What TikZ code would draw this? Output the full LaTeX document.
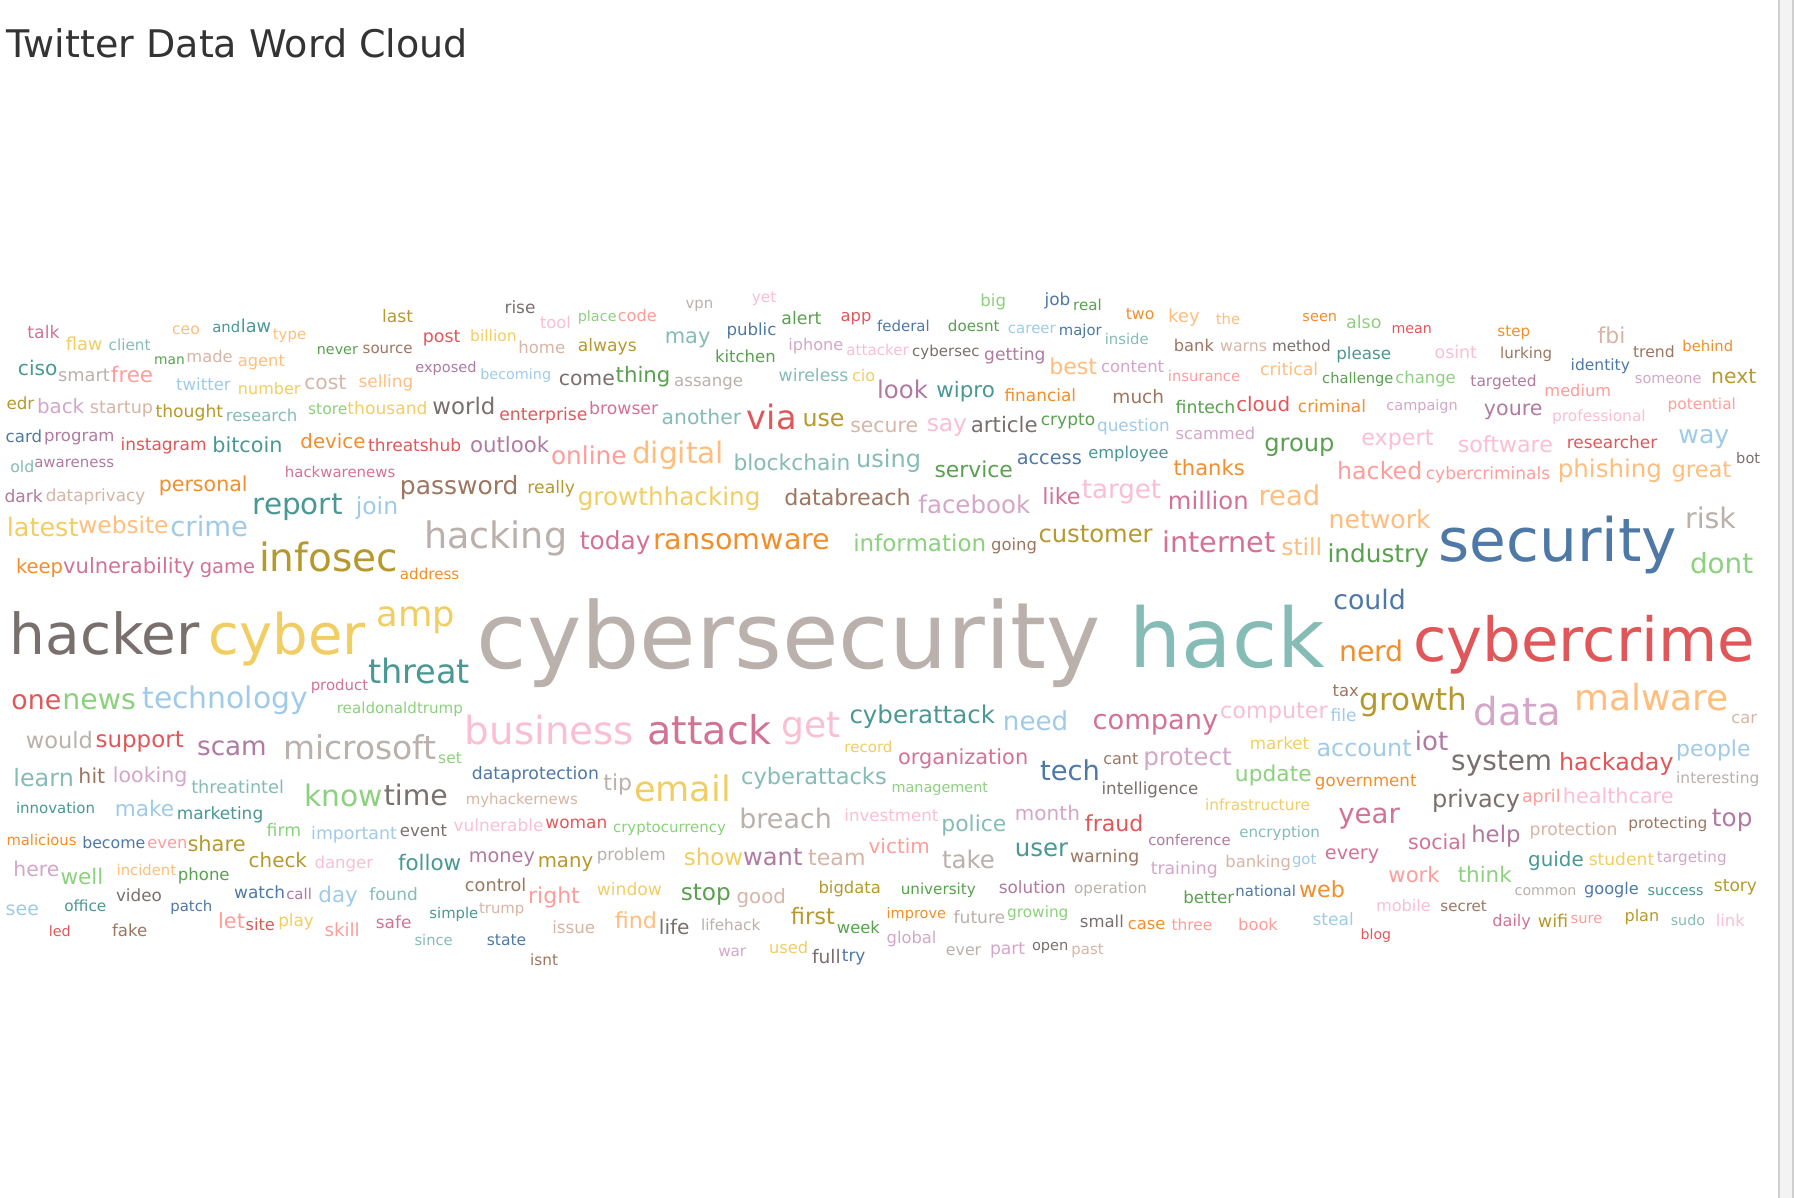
\documentclass[tikz,border=0pt]{standalone}
\usepackage{fontspec}
\setmainfont{DejaVu Sans}
\usepackage{graphicx}
\definecolor{cb}{HTML}{4E79A7}
\definecolor{clb}{HTML}{A0CBE8}
\definecolor{co}{HTML}{F28E2B}
\definecolor{clo}{HTML}{FFBE7D}
\definecolor{cg}{HTML}{59A14F}
\definecolor{clg}{HTML}{8CD17D}
\definecolor{cy}{HTML}{B6992D}
\definecolor{cly}{HTML}{F1CE63}
\definecolor{ct}{HTML}{499894}
\definecolor{clt}{HTML}{86BCB6}
\definecolor{cr}{HTML}{E15759}
\definecolor{clr}{HTML}{FF9D9A}
\definecolor{cgr}{HTML}{79706E}
\definecolor{clgr}{HTML}{BAB0AC}
\definecolor{cp}{HTML}{D37295}
\definecolor{clp}{HTML}{FABFD2}
\definecolor{cpu}{HTML}{B07AA1}
\definecolor{clpu}{HTML}{D4A6C8}
\definecolor{cbr}{HTML}{9D7660}
\definecolor{clbr}{HTML}{D7B5A6}
\definecolor{titlecol}{HTML}{333333}
\definecolor{scrollfill}{HTML}{F3F3F3}
\definecolor{scrollline}{HTML}{CFCFCF}
\tikzset{word/.style={anchor=base west, inner sep=0pt, outer sep=0pt}}
\newcommand\wrd[5]{\pgfmathsetmacro\wrdw{#2-#1}\node[word,text=c#4] (#5) at (#1,#3) {\resizebox{\wrdw pt}{!}{#5}};}
\begin{document}
\begin{tikzpicture}[x=1pt,y=-1pt]
\useasboundingbox (0,0) rectangle (1568,1047);
\fill[white] (0,0) rectangle (1568,1047);
\fill[scrollfill] (1555.9,0) rectangle (1566.3,1047);
\fill[scrollline] (1554.1,0) rectangle (1555.9,1047);
\fill[scrollline] (1566.3,0) rectangle (1568,1047);
\node[word,text=titlecol] (title) at (6,50) {\resizebox{403pt}{!}{Twitter Data Word Cloud}};
% row 1
\wrd{441}{468}{274}{gr}{rise}
\wrd{334}{361}{282}{y}{last}
\wrd{472}{499}{287}{lp}{tool}
\wrd{505}{539}{281}{lg}{place}
\wrd{540}{574}{281}{lr}{code}
\wrd{150.5}{174.6}{292}{lo}{ceo}
\wrd{185.6}{210}{291}{t}{and}
\wrd{210.5}{237}{291}{t}{law}
\wrd{24}{52}{296}{p}{talk}
\wrd{238.5}{267.6}{297}{lo}{type}
\wrd{369.6}{402.4}{299}{r}{post}
\wrd{411}{451.6}{298.6}{ly}{billion}
\wrd{57.5}{89.6}{306}{ly}{flaw}
\wrd{95}{131.5}{306.5}{lt}{client}
\wrd{277}{312.8}{310}{g}{never}
\wrd{317}{360.6}{308.8}{br}{source}
\wrd{453}{494}{308.8}{lbr}{home}
\wrd{505}{556.5}{307.4}{y}{always}
\wrd{134.8}{161.6}{319}{g}{man}
\wrd{163}{203.4}{316.7}{lbr}{made}
\wrd{208}{249}{320}{lo}{agent}
\wrd{363}{416.5}{325.5}{pu}{exposed}
\wrd{15.7}{50.2}{328}{t}{ciso}
\wrd{50.8}{96}{333.6}{lgr}{smart}
\wrd{97}{133.8}{334}{lr}{free}
\wrd{419.8}{481.7}{332}{lb}{becoming}
\wrd{488.4}{537.4}{336.5}{gr}{come}
\wrd{153.9}{201.7}{341.7}{lb}{twitter}
\wrd{208}{262.6}{344.4}{ly}{number}
\wrd{266}{302.7}{340}{lbr}{cost}
\wrd{313.4}{361.3}{339}{lo}{selling}
\wrd{5.7}{30}{358.3}{y}{edr}
\wrd{32.4}{73.6}{361}{lpu}{back}
\wrd{78.6}{133.8}{361}{lbr}{startup}
\wrd{136}{195}{365}{y}{thought}
\wrd{197.4}{260}{368.5}{lt}{research}
\wrd{269.3}{303.7}{362.7}{lg}{store}
\wrd{303.7}{373.6}{362}{ly}{thousand}
\wrd{378}{433}{362}{gr}{world}
\wrd{436.5}{513.5}{367.5}{r}{enterprise}
\wrd{515}{575.2}{362.7}{p}{browser}
\wrd{5}{36.8}{386.6}{b}{card}
\wrd{38.5}{100}{386}{pu}{program}
\wrd{105.4}{180.6}{394}{r}{instagram}
\wrd{185.6}{246.9}{395.3}{t}{bitcoin}
\wrd{262.6}{319.4}{392.4}{o}{device}
\wrd{321.8}{403}{394.7}{r}{threatshub}
\wrd{410.8}{480}{395.3}{pu}{outlook}
\wrd{481.7}{547.5}{406.4}{lr}{online}
\wrd{9}{30}{413.1}{lt}{old}
\wrd{30}{99.7}{408.7}{pu}{awareness}
\wrd{249}{345.5}{417.5}{p}{hackwarenews}
\wrd{138.8}{216.4}{430}{o}{personal}
\wrd{349.6}{453.2}{432}{br}{password}
\wrd{461}{502.7}{431}{y}{really}
\wrd{505}{664.6}{442}{ly}{growthhacking}
\wrd{4}{37.5}{439}{pu}{dark}
\wrd{40}{127}{438.5}{lbr}{dataprivacy}
\wrd{220.8}{299.4}{450}{t}{report}
\wrd{311}{348}{450}{lb}{join}
% row 1 middle
\wrd{599.3}{623.4}{269.5}{lgr}{vpn}
\wrd{657.2}{678.6}{264}{lp}{yet}
\wrd{856.9}{879.3}{267.5}{lg}{big}
\wrd{913}{935.5}{267}{b}{job}
\wrd{938}{963}{271.8}{g}{real}
\wrd{984}{1009}{279}{o}{two}
\wrd{1021}{1048.5}{282}{lo}{key}
\wrd{683}{718}{283.5}{g}{alert}
\wrd{734.8}{761.6}{281}{r}{app}
\wrd{766.6}{812.7}{289.9}{b}{federal}
\wrd{828.5}{873.6}{289.9}{g}{doesnt}
\wrd{881}{922.8}{291.3}{lb}{career}
\wrd{925.5}{962.9}{293.5}{b}{major}
\wrd{965.6}{1004}{301.5}{lt}{inside}
\wrd{635}{678.6}{292.8}{b}{public}
\wrd{581}{621}{300}{lt}{may}
\wrd{689}{737}{306.5}{lpu}{iphone}
\wrd{739.8}{794.3}{310.3}{lp}{attacker}
\wrd{797.3}{856.2}{312}{gr}{cybersec}
\wrd{860.2}{913.8}{315}{pu}{getting}
\wrd{625}{678}{316.7}{g}{kitchen}
\wrd{917.1}{958.9}{327.2}{lo}{best}
\wrd{962.3}{1017.5}{325.4}{lpu}{content}
\wrd{1020.8}{1083.9}{333.6}{lr}{insurance}
\wrd{1026}{1061}{307}{br}{bank}
\wrd{538.1}{586}{334}{g}{thing}
\wrd{589.3}{649.5}{337.5}{lgr}{assange}
\wrd{680.6}{741.5}{333.6}{lt}{wireless}
\wrd{744.8}{765}{333.6}{ly}{cio}
\wrd{766.6}{811}{348.1}{pu}{look}
\wrd{818.4}{869.6}{347.5}{t}{wipro}
\wrd{878}{940.5}{351}{o}{financial}
\wrd{972.3}{1017.5}{352.5}{br}{much}
\wrd{1027.5}{1079.8}{361}{g}{fintech}
\wrd{578.3}{647.8}{370.9}{lt}{another}
\wrd{652.8}{696.3}{375.8}{r}{via}
\wrd{701.4}{738.1}{372.9}{y}{use}
\wrd{743.2}{802.4}{378.1}{lbr}{secure}
\wrd{810}{845.2}{377}{lp}{say}
\wrd{848.5}{907}{378.1}{gr}{article}
\wrd{909.7}{957.2}{372}{g}{crypto}
\wrd{958.9}{1022.5}{377}{lb}{question}
\wrd{1027.5}{1097}{384.5}{lpu}{scammed}
\wrd{552.5}{632.8}{404.9}{lo}{digital}
\wrd{641.1}{743.2}{410.8}{lt}{blockchain}
\wrd{748.2}{805}{408.7}{lt}{using}
\wrd{816.8}{885.3}{417.5}{g}{service}
\wrd{888.7}{945.5}{406.4}{b}{access}
\wrd{951.2}{1021.5}{401}{t}{employee}
\wrd{1025.8}{1087.9}{415.2}{o}{thanks}
\wrd{685.6}{796}{441.9}{br}{databreach}
\wrd{802.7}{900.4}{448.6}{lpu}{facebook}
\wrd{911.1}{944.5}{440.8}{p}{like}
\wrd{945.5}{1014.8}{435.5}{lp}{target}
\wrd{1020.8}{1091.3}{445.7}{p}{million}
% row 1 right
\wrd{1062.7}{1083.9}{284}{lo}{the}
\wrd{1138.4}{1168.7}{281.1}{o}{seen}
\wrd{1176.5}{1207.4}{287}{lg}{also}
\wrd{1216.2}{1251.5}{291.3}{r}{mean}
\wrd{1308.8}{1337.4}{294}{o}{step}
\wrd{1396.3}{1420.6}{300.1}{lbr}{fbi}
\wrd{1470.4}{1514.8}{306.8}{o}{behind}
\wrd{1427.3}{1463.7}{312.6}{br}{trend}
\wrd{1066.4}{1107.4}{306.8}{lbr}{warns}
\wrd{1111.8}{1163}{306.8}{gr}{method}
\wrd{1168}{1215.9}{313.8}{t}{please}
\wrd{1253.9}{1290.9}{313.2}{lp}{osint}
\wrd{1311.1}{1356.6}{313.5}{br}{lurking}
\wrd{1372.8}{1424.6}{323.4}{b}{identity}
\wrd{1101.4}{1152.2}{328.3}{lo}{critical}
\wrd{1155.6}{1217.9}{335.6}{g}{challenge}
\wrd{1219.6}{1272.4}{335.6}{lg}{change}
\wrd{1285.2}{1343.1}{337.9}{pu}{targeted}
\wrd{1429}{1487.2}{335}{lpu}{someone}
\wrd{1495.6}{1535}{335.6}{y}{next}
\wrd{1349.9}{1408.1}{346.7}{lr}{medium}
\wrd{1080.5}{1127.6}{359.8}{r}{cloud}
\wrd{1134.4}{1194}{360.4}{o}{criminal}
\wrd{1211.8}{1274.1}{359}{lpu}{campaign}
\wrd{1297}{1348.2}{363.3}{pu}{youre}
\wrd{1356.6}{1438.4}{368.5}{lp}{professional}
\wrd{1457.6}{1517.2}{357.8}{lr}{potential}
\wrd{1189.9}{1252.9}{389}{lp}{expert}
\wrd{1274.1}{1357.3}{395.6}{lp}{software}
\wrd{1369.4}{1448.5}{391.8}{r}{researcher}
\wrd{1467}{1511.5}{388}{lb}{way}
\wrd{1517.5}{1538.4}{404.9}{gr}{bot}
\wrd{1105.1}{1166.4}{395}{g}{group}
\wrd{1168.7}{1243.1}{419.5}{lr}{hacked}
\wrd{1246.2}{1354.9}{419.5}{lr}{cybercriminals}
\wrd{1361.6}{1452.6}{417.5}{lo}{phishing}
\wrd{1461}{1513.2}{417.5}{lo}{great}
\wrd{1100}{1153.9}{441.4}{lo}{read}
\wrd{1161.3}{1250.5}{462}{lo}{network}
\wrd{1472.8}{1517.2}{462}{lgr}{risk}
% row 2
\wrd{6}{68.6}{469}{ly}{latest}
\wrd{68.6}{147.2}{466.1}{lo}{website}
\wrd{148.9}{216.8}{469}{lb}{crime}
\wrd{370.6}{495.7}{479}{lgr}{hacking}
\wrd{506.8}{568.6}{480.5}{p}{today}
\wrd{570.9}{725.8}{480.7}{o}{ransomware}
\wrd{745.8}{861.9}{482.1}{lg}{information}
\wrd{866.3}{906.4}{481}{br}{going}
\wrd{907.7}{1007.4}{474}{y}{customer}
\wrd{1015.8}{1114.8}{482.7}{p}{internet}
\wrd{1119.9}{1155.6}{485.1}{lo}{still}
\wrd{1160.3}{1248.9}{492}{g}{industry}
\wrd{1257.3}{1466}{491}{b}{security}
\wrd{1477.1}{1532.4}{501.1}{lg}{dont}
\wrd{14}{55.2}{501}{o}{keep}
\wrd{55.2}{170}{501}{p}{vulnerability}
\wrd{174.6}{223.1}{501}{p}{game}
\wrd{226.5}{347.9}{499.6}{y}{infosec}
\wrd{349.6}{401.4}{506.3}{o}{address}
\wrd{8.4}{174.6}{572.4}{gr}{hacker}
\wrd{182.3}{319.4}{572.4}{ly}{cyber}
\wrd{329.5}{398}{548}{ly}{amp}
\wrd{416.5}{962.2}{584.7}{lgr}{cybersecurity}
\wrd{987.4}{1157.9}{583.5}{lt}{hack}
\wrd{1165.3}{1228.7}{532.3}{b}{could}
\wrd{1170.4}{1227}{578.3}{o}{nerd}
\wrd{1235.4}{1533.4}{578.3}{r}{cybercrime}
\wrd{321.8}{410.8}{597.2}{t}{threat}
\wrd{271.6}{321.8}{603.9}{p}{product}
\wrd{1164.7}{1187.6}{608.9}{br}{tax}
\wrd{1188.2}{1282.5}{620.6}{y}{growth}
\wrd{1288.2}{1364.3}{634.5}{lpu}{data}
\wrd{1375.8}{1510.8}{621.4}{lo}{malware}
\wrd{1513.2}{1535.7}{632.2}{lbr}{car}
\wrd{1066.5}{1160.5}{628}{lp}{computer}
\wrd{1163}{1185.8}{631}{lb}{file}
\wrd{10}{53.5}{620.5}{r}{one}
\wrd{54.5}{118.7}{620.5}{lg}{news}
\wrd{124.4}{269.3}{619.6}{lb}{technology}
\wrd{294.4}{404.7}{624}{lg}{realdonaldtrump}
\wrd{406.4}{554.2}{651}{lp}{business}
\wrd{565.9}{674.6}{651.1}{p}{attack}
\wrd{683}{734.8}{645}{lp}{get}
\wrd{742.5}{869.6}{632.2}{t}{cyberattack}
\wrd{876.6}{933.7}{638.5}{lb}{need}
\wrd{955}{1064.8}{638}{p}{company}
\wrd{22.7}{81.3}{654}{lgr}{would}
\wrd{83.6}{160.6}{653}{r}{support}
\wrd{172.3}{233.1}{660}{pu}{scam}
\wrd{247.5}{381.3}{664}{lgr}{microsoft}
\wrd{383}{403.7}{667.2}{lg}{set}
\wrd{738.1}{780}{657.6}{ly}{record}
\wrd{1092.5}{1144.3}{655.5}{ly}{market}
\wrd{1150.7}{1233.8}{661.4}{lb}{account}
\wrd{1236.7}{1265.8}{656}{pu}{iot}
\wrd{1465}{1530}{661}{lb}{people}
\wrd{785}{898.7}{668}{p}{organization}
\wrd{909}{961.4}{681.8}{b}{tech}
\wrd{964.3}{994.9}{668.6}{br}{cant}
\wrd{999.3}{1076.5}{669}{lpu}{protect}
\wrd{1079.4}{1146.4}{683}{lg}{update}
\wrd{1149.3}{1238.1}{687.6}{o}{government}
\wrd{1268.4}{1356.6}{673}{gr}{system}
\wrd{1362.7}{1462.7}{673}{r}{hackaday}
\wrd{1465}{1537.7}{685}{lgr}{interesting}
\wrd{962.8}{1047.3}{694.3}{gr}{intelligence}
\wrd{1053.2}{1144.9}{708.6}{ly}{infrastructure}
\wrd{1251.6}{1328.6}{706}{gr}{privacy}
\wrd{1330.3}{1364}{701}{lr}{april}
\wrd{1366}{1462.7}{702.2}{lp}{healthcare}
\wrd{887.1}{943.9}{716.7}{lpu}{month}
\wrd{948.3}{999.3}{726.9}{r}{fraud}
\wrd{1169.7}{1223.6}{720}{p}{year}
\wrd{1496.3}{1531.7}{722.5}{pu}{top}
\wrd{1003.6}{1075.6}{738.6}{pu}{conference}
\wrd{1083.2}{1153.6}{732}{lt}{encryption}
\wrd{1230.8}{1281.8}{742.3}{p}{social}
\wrd{1285.9}{1329}{736}{pu}{help}
\wrd{1337}{1413.8}{730.4}{lbr}{protection}
\wrd{1423.3}{1492.3}{724}{br}{protecting}
\wrd{887.1}{933.7}{748.8}{t}{user}
\wrd{935.2}{995.8}{754}{br}{warning}
\wrd{1158}{1205.5}{751.5}{p}{every}
% row 3 left
\wrd{11.7}{64.6}{687.6}{lt}{learn}
\wrd{68.6}{92}{684.7}{br}{hit}
\wrd{98.7}{163.9}{683.8}{lpu}{looking}
\wrd{167.2}{248.2}{693.4}{lt}{threatintel}
\wrd{265.9}{334.5}{705.1}{lg}{know}
\wrd{335.5}{391.4}{704.2}{gr}{time}
\wrd{412.4}{523.5}{681.5}{b}{dataprotection}
\wrd{407.1}{505.1}{703}{lbr}{myhackernews}
\wrd{527.4}{552.5}{691}{lgr}{tip}
\wrd{554.2}{638.8}{700.1}{ly}{email}
\wrd{647.8}{775}{686}{lt}{cyberattacks}
\wrd{779.3}{863.6}{692.5}{lg}{management}
\wrd{14}{83}{710.9}{t}{innovation}
\wrd{100.4}{152.2}{713.2}{lb}{make}
\wrd{154.5}{230.1}{716}{t}{marketing}
\wrd{233.1}{263.3}{731.3}{lg}{firm}
\wrd{272}{346.9}{733.5}{lb}{important}
\wrd{349.6}{390.7}{731.3}{gr}{event}
\wrd{396.4}{475}{727}{lp}{vulnerable}
\wrd{476.7}{530.8}{724}{r}{woman}
\wrd{535.8}{634.5}{727.5}{lg}{cryptocurrency}
\wrd{646.2}{727.1}{724}{lgr}{breach}
\wrd{738.1}{820.1}{718.2}{lp}{investment}
\wrd{822.8}{879.6}{726.5}{lt}{police}
\wrd{5.7}{66.9}{738.6}{o}{malicious}
\wrd{71.9}{127.1}{742}{b}{become}
\wrd{128.8}{163.9}{741.5}{lr}{even}
\wrd{163.9}{214.7}{743.8}{y}{share}
\wrd{217.4}{268.3}{758.4}{y}{check}
\wrd{275}{326.1}{759}{lp}{danger}
\wrd{347.9}{403.1}{760.4}{t}{follow}
\wrd{409.8}{467.6}{754}{pu}{money}
\wrd{470}{518.5}{758.5}{y}{many}
\wrd{521.7}{581.9}{752.5}{lgr}{problem}
\wrd{597.7}{649.5}{756.6}{ly}{show}
\wrd{649.5}{701.4}{756.6}{pu}{want}
\wrd{706.4}{756.5}{756.6}{lbr}{team}
\wrd{759.2}{812.7}{745.9}{lr}{victim}
\wrd{823.4}{869.6}{759}{lgr}{take}
\wrd{1005.8}{1064.3}{764.5}{lpu}{training}
\wrd{1071.1}{1128.3}{758.5}{lbr}{banking}
\wrd{1129.3}{1150.5}{755.5}{lb}{got}
\wrd{1335.7}{1384.2}{757}{t}{guide}
\wrd{1388.6}{1445.8}{756.6}{ly}{student}
\wrd{1448.2}{1509.1}{754}{lpu}{targeting}
\wrd{11.7}{51.8}{766.3}{lpu}{here}
\wrd{52.9}{90.3}{773}{lg}{well}
\wrd{102}{153.9}{764.8}{lo}{incident}
\wrd{155.5}{200.7}{770}{g}{phone}
\wrd{204.7}{249.2}{785.2}{b}{watch}
\wrd{250.2}{272.6}{785.8}{pu}{call}
\wrd{278.3}{312.8}{789}{lb}{day}
\wrd{322.8}{365.3}{786.7}{lt}{found}
\wrd{406.4}{460}{779.4}{br}{control}
\wrd{461.6}{506.8}{790}{lr}{right}
\wrd{101.4}{141.5}{788.1}{gr}{video}
\wrd{521.7}{578.6}{782.9}{ly}{window}
\wrd{595}{638.8}{787}{g}{stop}
\wrd{643.8}{687}{790}{lbr}{good}
\wrd{715.4}{769.9}{780.5}{y}{bigdata}
\wrd{787.3}{852.9}{782}{g}{university}
\wrd{873}{931.5}{780.8}{pu}{solution}
\wrd{938.8}{1002.4}{780.5}{lgr}{operation}
\wrd{1034.2}{1078.8}{789.6}{g}{better}
\wrd{1079.8}{1132.7}{783.7}{b}{national}
\wrd{1135.4}{1175.5}{784.6}{o}{web}
\wrd{1213.5}{1258.3}{771.2}{lr}{work}
\wrd{1274.1}{1321.3}{771.2}{lg}{think}
\wrd{1323.9}{1377.8}{782.3}{lgr}{common}
\wrd{1384.5}{1432.4}{782}{b}{google}
\wrd{1440.1}{1488.9}{782.3}{t}{success}
\wrd{1498}{1535.7}{779}{y}{story}
\wrd{5}{34.1}{799.8}{lb}{see}
\wrd{56.2}{93}{796.3}{t}{office}
\wrd{148.9}{185.6}{796.3}{b}{patch}
\wrd{375.3}{418.1}{802.5}{t}{simple}
\wrd{418.8}{458.3}{798.5}{lbr}{trump}
\wrd{482.7}{520.2}{815.8}{lbr}{issue}
\wrd{537.4}{574.2}{811.4}{lo}{find}
\wrd{575.9}{602.7}{816.7}{gr}{life}
\wrd{612.7}{664.6}{813.7}{lgr}{lifehack}
\wrd{691.3}{729.8}{807.9}{y}{first}
\wrd{731.5}{769}{815.8}{g}{week}
\wrd{775}{826.8}{803}{o}{improve}
\wrd{833.5}{878.6}{807}{lgr}{future}
\wrd{880.3}{933.8}{802}{lg}{growing}
\wrd{943.9}{982.3}{810.8}{gr}{small}
\wrd{985.7}{1018.5}{812}{o}{case}
\wrd{1024}{1059.6}{812.9}{lr}{three}
\wrd{1202.7}{1250.5}{796.8}{lp}{mobile}
\wrd{1259}{1299.4}{796.3}{br}{secret}
\wrd{1082.2}{1116.9}{812.9}{lr}{book}
\wrd{1147.2}{1183.2}{809.1}{lb}{steal}
\wrd{1189.3}{1215.9}{821}{r}{blog}
\wrd{1304.4}{1338.1}{810}{p}{daily}
\wrd{1344.1}{1370.7}{810.8}{y}{wifi}
\wrd{1372.8}{1400.4}{807}{lr}{sure}
\wrd{1419.9}{1450.2}{805.6}{y}{plan}
\wrd{1460.3}{1490.3}{808.5}{lt}{sudo}
\wrd{1499.7}{1525}{810}{lp}{link}
\wrd{190.7}{214.1}{811.4}{lr}{let}
\wrd{214.7}{240.2}{813.7}{r}{site}
\wrd{243.2}{274.3}{810}{ly}{play}
\wrd{283.7}{314.4}{818.7}{lr}{skill}
\wrd{328.5}{359.6}{811.4}{p}{safe}
\wrd{42.8}{61.9}{818.7}{r}{led}
\wrd{98}{128.8}{818.7}{br}{fake}
\wrd{362.3}{395.7}{826}{lt}{since}
\wrd{425.5}{460}{826}{b}{state}
\wrd{463.3}{487.7}{843.5}{br}{isnt}
\wrd{775}{818.4}{825}{lpu}{global}
\wrd{627.8}{652.2}{836.2}{lpu}{war}
\wrd{672.2}{706.4}{833.3}{ly}{used}
\wrd{709.7}{734.8}{842}{gr}{full}
\wrd{735.8}{756.5}{840}{b}{try}
\wrd{826.8}{857.6}{835.3}{lgr}{ever}
\wrd{865.3}{896}{834.5}{lpu}{part}
\wrd{902}{933.8}{831}{gr}{open}
\wrd{936.5}{964.6}{834.5}{lbr}{past}
\end{tikzpicture}
\end{document}
